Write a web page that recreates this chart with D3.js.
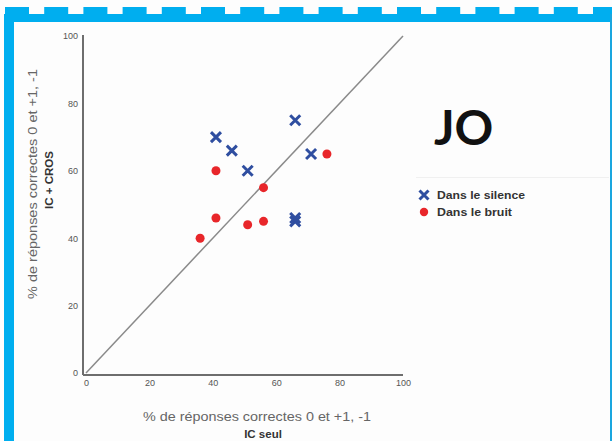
<!DOCTYPE html>
<html>
<head>
<meta charset="utf-8">
<script src="https://cdn.jsdelivr.net/npm/d3@7"></script>
<style>
  html, body { margin: 0; padding: 0; background: #fff; }
  svg { display: block; }
</style>
</head>
<body>
<svg id="chart" width="612" height="441"></svg>
<script>
// Scores (% correct responses) : IC alone (x) vs IC + CROS (y)
const silenceX = [66, 41, 46, 51, 71, 66, 66];
const silenceY = [75, 70, 66, 60, 65, 45, 46];
const noiseX = [76, 41, 56, 41, 51, 56, 36];
const noiseY = [65, 60, 55, 46, 44, 45, 40];
const tickValues = [0, 20, 40, 60, 80, 100];
const seriesNames = ["Dans le silence", "Dans le bruit"];
const xTitle = "% de réponses correctes 0 et +1, -1";
const xSub = "IC seul";
const yTitle = "% de réponses correctes 0 et +1, -1";
const ySub = "IC + CROS";
const subjectLabel = "JO";

const W = 612, H = 441;
const blue = "#00AEEF";
const svg = d3.select("#chart");

// page background
svg.append("rect").attr("width", W).attr("height", H).attr("fill", "#fdfdfd");

// blue frame: tabbed top edge, solid band, left bar, thin right edge
const tabs = d3.range(0, 16).map(i => 5 + i * 39.2);
svg.selectAll("rect.tab").data(tabs).join("rect")
  .attr("class", "tab")
  .attr("x", d => d).attr("y", 7)
  .attr("width", 24).attr("height", 8)
  .attr("fill", blue);
svg.append("rect").attr("x", 4).attr("y", 14).attr("width", W - 4).attr("height", 8).attr("fill", blue);
svg.append("rect").attr("x", 4).attr("y", 14).attr("width", 10).attr("height", H - 14).attr("fill", blue);
svg.append("rect").attr("x", 610).attr("y", 14).attr("width", 2).attr("height", H - 14).attr("fill", "#1aa6df");

// scales
const x = d3.scaleLinear().domain([0, 100]).range([86, 403]);
const y = d3.scaleLinear().domain([0, 100]).range([373, 36]);

const axisColor = "#6e6e6e";
const tickFont = "Liberation Sans, Arial, sans-serif";

// x axis
const gx = svg.append("g").attr("transform", "translate(0,375)")
  .call(d3.axisBottom(x).tickValues(tickValues).tickSize(0).tickPadding(5));
gx.select(".domain").attr("d", "M83,0H403").attr("stroke", axisColor).attr("stroke-width", 2);
gx.selectAll("text").attr("font-family", tickFont).attr("font-size", 9).attr("fill", "#555");

// y axis
const gy = svg.append("g").attr("transform", "translate(83,0)")
  .call(d3.axisLeft(y).tickValues(tickValues).tickSize(0).tickPadding(5));
gy.select(".domain").attr("d", "M0,35V375").attr("stroke", axisColor).attr("stroke-width", 2);
gy.selectAll("text").attr("font-family", tickFont).attr("font-size", 9).attr("fill", "#555");

// identity diagonal
svg.append("line")
  .attr("x1", x(0)).attr("y1", y(0))
  .attr("x2", x(100)).attr("y2", y(100))
  .attr("stroke", "#8a8a8a").attr("stroke-width", 1.5);

// axis titles
svg.append("text").attr("x", 257).attr("y", 421).attr("text-anchor", "middle")
  .attr("font-family", tickFont).attr("font-size", 13).attr("fill", "#666")
  .attr("textLength", 228).attr("lengthAdjust", "spacingAndGlyphs")
  .text(xTitle);
svg.append("text").attr("x", 263).attr("y", 438).attr("text-anchor", "middle")
  .attr("font-family", tickFont).attr("font-size", 11.5).attr("font-weight", "bold").attr("fill", "#333")
  .text(xSub);

svg.append("text").attr("transform", "translate(37,184) rotate(-90)").attr("text-anchor", "middle")
  .attr("font-family", tickFont).attr("font-size", 13).attr("fill", "#666")
  .attr("textLength", 230).attr("lengthAdjust", "spacingAndGlyphs")
  .text(yTitle);
svg.append("text").attr("transform", "translate(53,180) rotate(-90)").attr("text-anchor", "middle")
  .attr("font-family", tickFont).attr("font-size", 11.5).attr("font-weight", "bold").attr("fill", "#333")
  .text(ySub);

// markers
const xColor = "#2f4ea0", dotColor = "#e8262a";
function cross(g, cx, cy, r) {
  g.append("path")
    .attr("d", `M${cx - r},${cy - r}L${cx + r},${cy + r}M${cx - r},${cy + r}L${cx + r},${cy - r}`)
    .attr("stroke", xColor).attr("stroke-width", 3).attr("fill", "none");
}
const silence = silenceX.map((v, i) => ({ x: v, y: silenceY[i] }));
const noise = noiseX.map((v, i) => ({ x: v, y: noiseY[i] }));

svg.append("g").selectAll("circle").data(noise).join("circle")
  .attr("cx", d => x(d.x)).attr("cy", d => y(d.y)).attr("r", 4.5)
  .attr("fill", dotColor);

const gs = svg.append("g");
silence.forEach(d => cross(gs, x(d.x), y(d.y), 5));

// subject label
svg.append("text").attr("x", 434).attr("y", 145)
  .attr("font-family", "Lato, sans-serif").attr("font-weight", 700)
  .attr("font-size", 48).attr("fill", "#111")
  .text(subjectLabel);

// faint separator line
svg.append("line").attr("x1", 416).attr("x2", 609).attr("y1", 177.5).attr("y2", 177.5)
  .attr("stroke", "#f0f0f0").attr("stroke-width", 1);

// legend
const lg = svg.append("g");
cross(lg, 424, 195, 4.5);
lg.append("circle").attr("cx", 424).attr("cy", 212).attr("r", 4.2).attr("fill", dotColor);
lg.selectAll("text").data(seriesNames).join("text")
  .attr("x", 437).attr("y", (d, i) => 199 + i * 17)
  .attr("font-family", tickFont).attr("font-size", 11).attr("font-weight", "bold")
  .attr("fill", "#333")
  .attr("textLength", (d, i) => i === 0 ? 88 : 75).attr("lengthAdjust", "spacingAndGlyphs")
  .text(d => d);
</script>
</body>
</html>
